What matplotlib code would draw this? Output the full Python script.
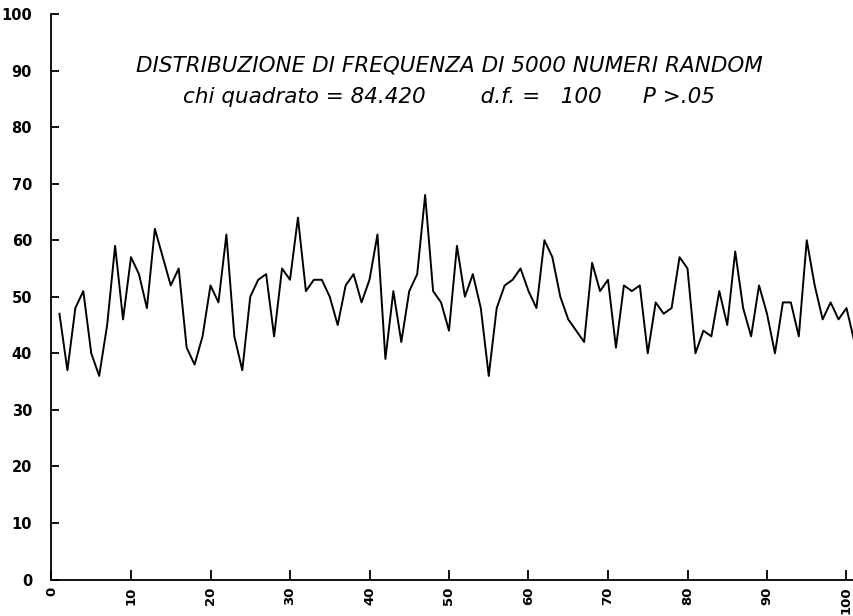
import matplotlib
matplotlib.use("Agg")
import matplotlib.pyplot as plt

import numpy as np

# classes 1..101, observed counts for 5000 random numbers
classes = list(range(1, 102))
counts = [47, 37, 48, 51, 40, 36, 45, 59, 46, 57,
          54, 48, 62, 57, 52, 55, 41, 38, 43, 52,
          49, 61, 43, 37, 50, 53, 54, 43, 55, 53,
          64, 51, 53, 53, 50, 45, 52, 54, 49, 53,
          61, 39, 51, 42, 51, 54, 68, 51, 49, 44,
          59, 50, 54, 48, 36, 48, 52, 53, 55, 51,
          48, 60, 57, 50, 46, 44, 42, 56, 51, 53,
          41, 52, 51, 52, 40, 49, 47, 48, 57, 55,
          40, 44, 43, 51, 45, 58, 48, 43, 52, 47,
          40, 49, 49, 43, 60, 52, 46, 49, 46, 48,
          42]

x_ticks = list(range(0, 101, 10))
y_ticks = list(range(0, 101, 10))
title1 = "DISTRIBUZIONE DI FREQUENZA DI 5000 NUMERI RANDOM"
title2 = "chi quadrato = 84.420" + " " * 8 + "d.f. =" + " " * 3 + "100" + " " * 6 + "P >.05"


def main():
    fig = plt.figure(figsize=(8.54, 6.16), dpi=100)
    # axes box: x=0 at px 51.5, y=0 at px 579.5, y=100 at px 14
    left = 51.5 / 854
    bottom = (616 - 579.5) / 616
    height = (579.5 - 14) / 616
    ax = fig.add_axes([left, bottom, 1.0 - left, height])

    ax.plot(classes, counts, color='black', linewidth=1.4)

    ax.set_xlim(0, (854 - 51.5) / 7.95)
    ax.set_ylim(0, 100)
    ax.set_xticks(x_ticks)
    ax.set_yticks(y_ticks)
    ax.set_xticklabels([str(t) for t in x_ticks], rotation=90)

    ax.spines['top'].set_visible(False)
    ax.spines['right'].set_visible(False)
    for s in ['left', 'bottom']:
        ax.spines[s].set_linewidth(1.3)

    ax.tick_params(axis='y', direction='in', length=6, width=1.3, pad=14,
                   labelsize=10.5)
    ax.tick_params(axis='x', direction='in', length=7, width=1.3, pad=5,
                   labelsize=9.5)
    for lab in ax.get_xticklabels() + ax.get_yticklabels():
        lab.set_fontweight('bold')

    fig.text(449 / 854, 1 - 65 / 616, title1, ha='center', va='center',
             fontsize=15.5, style='italic', family='DejaVu Sans')
    fig.text(449 / 854, 1 - 97 / 616, title2, ha='center', va='center',
             fontsize=15.5, style='italic', family='DejaVu Sans')

    fig.savefig('out.png', dpi=100)


if __name__ == "__main__":
    main()
